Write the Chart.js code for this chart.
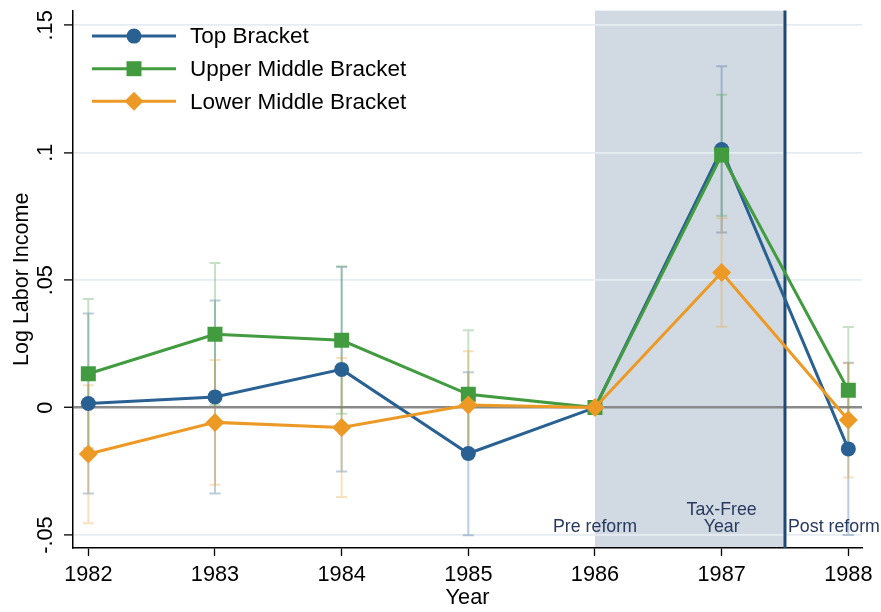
<!DOCTYPE html>
<html><head><meta charset="utf-8">
<script src="https://cdn.jsdelivr.net/npm/chart.js@4.4.1/dist/chart.umd.min.js"></script>
<style>html,body{margin:0;padding:0;background:#fff}#wrap{width:881px;height:612px;position:relative}</style>
</head><body><div id="wrap"><canvas id="c"></canvas></div>
<script>
const years = [1982, 1983, 1984, 1985, 1986, 1987, 1988];
const topBracket = [0.0016, 0.0042, 0.0150, -0.0180, 0, 0.1013, -0.0162];
const topLo = [-0.0337, -0.0337, -0.0251, -0.0501, 0, 0.0687, -0.0500];
const topHi = [0.0369, 0.0420, 0.0552, 0.0139, 0, 0.1340, 0.0176];
const upperMiddle = [0.0133, 0.0288, 0.0264, 0.0052, 0, 0.0991, 0.0068];
const upperLo = [-0.0160, 0.0010, -0.0024, -0.0200, 0, 0.0753, -0.0180];
const upperHi = [0.0426, 0.0567, 0.0555, 0.0304, 0, 0.1228, 0.0316];
const lowerMiddle = [-0.0182, -0.0058, -0.0078, 0.0010, 0, 0.0530, -0.0049];
const lowerLo = [-0.0454, -0.0303, -0.0351, -0.0200, 0, 0.0317, -0.0274];
const lowerHi = [0.0088, 0.0187, 0.0195, 0.0221, 0, 0.0743, 0.0174];
const yTicks = [-0.05, 0, 0.05, 0.1, 0.15];
const yTickLabels = ['-.05', '0', '.05', '.1', '.15'];
const seriesNames = ['Top Bracket', 'Upper Middle Bracket', 'Lower Middle Bracket'];
const shadeStart = 1986, reformLine = 1987.5;
const periodText = ['Pre reform', 'Tax-Free', 'Year', 'Post reform'];

const FONT = "'Liberation Sans', Arial, sans-serif";
const colors = ['#2a6193', '#429c3f', '#ec9a25'];
const barColors = ['rgba(42,97,147,0.32)', 'rgba(66,156,63,0.3)', 'rgba(236,154,37,0.3)'];
const styles = ['circle', 'rect', 'rectRot'];
const radii = [7.5, 10.6, 9.5];

function pts(arr){ return years.map((x,i)=>({x:x, y:arr[i]})); }
const series = [topBracket, upperMiddle, lowerMiddle];
const los = [topLo, upperLo, lowerLo];
const his = [topHi, upperHi, lowerHi];

const datasets = series.map((s,k)=>({
  label: seriesNames[k], data: pts(s), borderColor: colors[k], backgroundColor: colors[k],
  borderWidth: 3, pointStyle: styles[k], pointRadius: radii[k], pointBorderWidth: 0,
  pointHoverRadius: radii[k], tension: 0, order: 2-k
}));

function drawMarker(ctx, style, x, y, r, color){
  ctx.save(); ctx.fillStyle = color; ctx.beginPath();
  if (style==='circle'){ ctx.arc(x,y,r,0,Math.PI*2); }
  else if (style==='rect'){ const s=r*Math.SQRT1_2; ctx.rect(x-s,y-s,2*s,2*s); }
  else { ctx.moveTo(x-r,y); ctx.lineTo(x,y-r); ctx.lineTo(x+r,y); ctx.lineTo(x,y+r); ctx.closePath(); }
  ctx.fill(); ctx.restore();
}

const plugin = {
  id: 'custom',
  beforeDraw(chart){
    const {ctx, chartArea:a, scales:{x}} = chart;
    ctx.save();
    ctx.fillStyle='#fff'; ctx.fillRect(0,0,chart.width,chart.height);
    ctx.fillStyle='rgb(209,218,227)';
    const x0=x.getPixelForValue(shadeStart), x1=x.getPixelForValue(reformLine);
    ctx.fillRect(x0, a.top, x1-x0, a.bottom-a.top);
    ctx.restore();
  },
  beforeDatasetsDraw(chart){
    const {ctx, chartArea:a, scales:{x,y}} = chart;
    ctx.save();
    for (let k=0;k<3;k++){
      ctx.strokeStyle = barColors[k]; ctx.lineWidth = 2;
      years.forEach((yr,i)=>{
        if (los[k][i]===his[k][i]) return;
        const px=x.getPixelForValue(yr), pl=y.getPixelForValue(los[k][i]), ph=y.getPixelForValue(his[k][i]);
        ctx.beginPath();
        ctx.moveTo(px,pl); ctx.lineTo(px,ph);
        ctx.moveTo(px-5.5,pl); ctx.lineTo(px+5.5,pl);
        ctx.moveTo(px-5.5,ph); ctx.lineTo(px+5.5,ph);
        ctx.stroke();
      });
    }
    const lx = x.getPixelForValue(reformLine);
    ctx.strokeStyle='#1f4a78'; ctx.lineWidth=3;
    ctx.beginPath(); ctx.moveTo(lx,a.top); ctx.lineTo(lx,a.bottom); ctx.stroke();
    ctx.restore();
  },
  afterDraw(chart){
    const {ctx, chartArea:a, scales:{x,y}} = chart;
    ctx.save();
    ctx.fillStyle='#000'; ctx.font = '21.7px '+FONT; ctx.textAlign='center'; ctx.textBaseline='middle';
    yTicks.forEach((v,i)=>{
      ctx.save(); ctx.translate(46, y.getPixelForValue(v)); ctx.rotate(-Math.PI/2);
      ctx.fillText(yTickLabels[i],0,0); ctx.restore();
    });
    ctx.fillStyle='#27395f'; ctx.font='17.8px '+FONT;
    const by = a.bottom - 21;
    ctx.textAlign='center';
    ctx.fillText(periodText[0], x.getPixelForValue(1986), by);
    ctx.fillText(periodText[1], x.getPixelForValue(1987), by-17);
    ctx.fillText(periodText[2], x.getPixelForValue(1987), by);
    ctx.textAlign='left';
    ctx.fillText(periodText[3], x.getPixelForValue(reformLine)+3, by);
    ctx.font='22.5px '+FONT; ctx.textAlign='left'; ctx.textBaseline='middle';
    for (let k=0;k<3;k++){
      const ly = a.top + 25.5 + k*32.6;
      ctx.strokeStyle=colors[k]; ctx.lineWidth=3;
      ctx.beginPath(); ctx.moveTo(92,ly); ctx.lineTo(176,ly); ctx.stroke();
      drawMarker(ctx, styles[k], 134, ly, radii[k], colors[k]);
      ctx.fillStyle='#000'; ctx.fillText(seriesNames[k], 190, ly+1);
    }
    ctx.restore();
  }
};

new Chart(document.getElementById('c'), {
  type: 'line',
  data: { datasets },
  options: {
    responsive: true, maintainAspectRatio: false, animation: false, events: [],
    layout: { padding: { top: 7, right: 19, left: 0, bottom: 0 } },
    plugins: { legend: { display: false }, tooltip: { enabled: false } },
    scales: {
      x: {
        type: 'linear', min: 1981.879, max: 1988.108,
        afterBuildTicks: s => { s.ticks = years.map(v => ({ value: v })); },
        afterFit: s => { s.height = 64; },
        ticks: { callback: v => String(v), font: { family: FONT, size: 21.7 }, color: '#000', padding: 6, maxRotation: 0, autoSkip: false },
        grid: { drawOnChartArea: false, drawTicks: true, tickLength: 8, tickColor: '#000', tickWidth: 1.3 },
        border: { display: true, color: '#000', width: 1.5 },
        title: { display: true, text: 'Year', font: { family: FONT, size: 21.7 }, color: '#000', padding: { top: 0, bottom: 1 } }
      },
      y: {
        min: -0.0551, max: 0.1558,
        afterBuildTicks: s => { s.ticks = yTicks.map(v => ({ value: v })); },
        afterFit: s => { s.width = 73; },
        ticks: { display: false },
        grid: {
          color: c => (c.tick && c.tick.value === 0) ? '#8a8a8a' : '#e6edf2',
          lineWidth: c => (c.tick && c.tick.value === 0) ? 2.5 : 1.8,
          drawTicks: true, tickLength: 9, tickColor: '#000', tickWidth: 1.3
        },
        border: { display: true, color: '#000', width: 1.5 },
        title: { display: true, text: 'Log Labor Income', font: { family: FONT, size: 21.5 }, color: '#000', padding: { top: 9, bottom: 0 } }
      }
    }
  },
  plugins: [plugin]
});
</script></body></html>
